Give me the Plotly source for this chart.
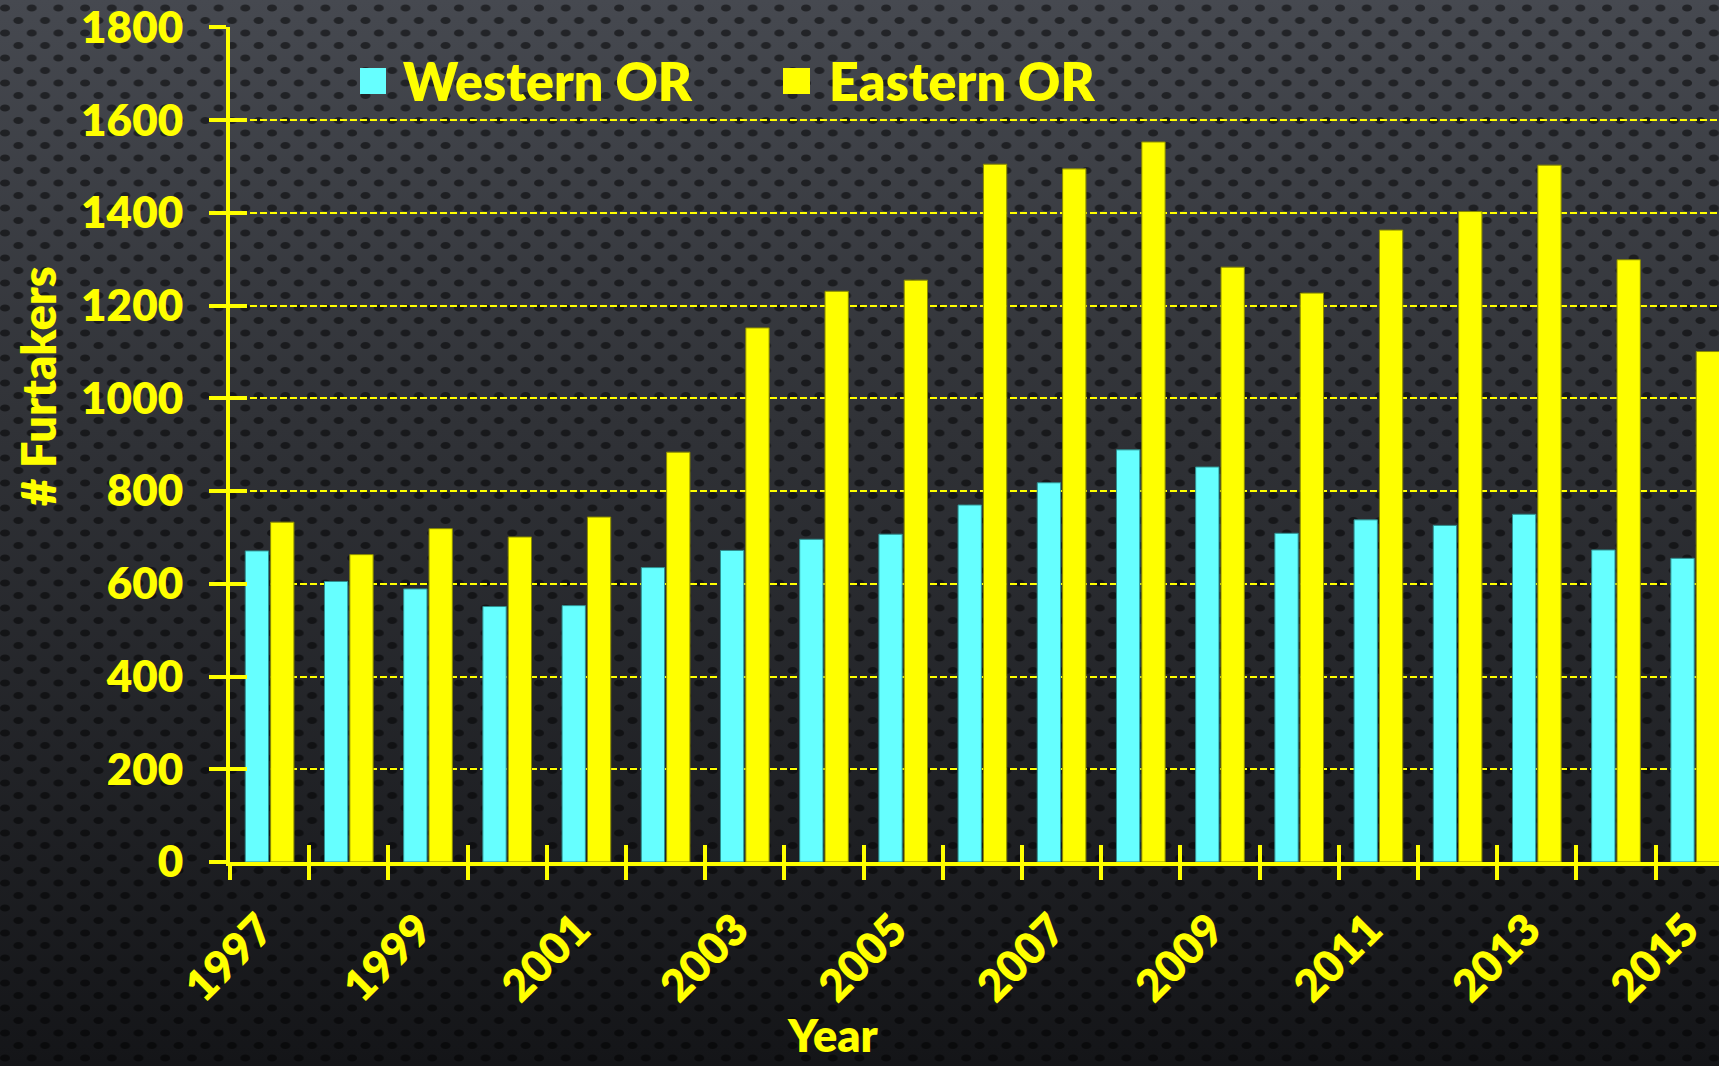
import base64
import plotly.graph_objects as go

# ---------------- data ----------------
years = list(range(1997, 2016))
western_or = [671, 605, 589, 551, 553, 635, 672, 696, 707, 770, 818, 889, 852, 709, 738, 726, 750, 673, 655]
eastern_or = [733, 663, 719, 701, 744, 884, 1152, 1231, 1255, 1505, 1495, 1553, 1283, 1227, 1363, 1403, 1503, 1299, 1101]
y_ticks = [0, 200, 400, 600, 800, 1000, 1200, 1400, 1600, 1800]
grid_ticks = y_ticks[1:-1]
x_label_years = years[::2]

YELLOW = "#FFFF00"
CYAN = "#66FFFF"
FONT = "Lato"
WEIGHT = 800

# ---------------- layout geometry ----------------
W, H = 1719, 1066
L, T, B, R = 230, 27, 204, 0
PW = W - L - R
PH = H - T - B
CAT_PX = 79.2  # pixel width of one year category in the reference
x_range = [years[0] - 0.5, years[0] - 0.5 + PW / CAT_PX]
y_range = [0, 1801]


def px(xp):
    return (xp - L) / PW


def py(yp):
    return (H - B - yp) / PH


# ---------------- background texture (svg) ----------------
svg = f"""<svg xmlns='http://www.w3.org/2000/svg' width='{W}' height='{H}'>
<defs>
<linearGradient id='g' x1='0' y1='0' x2='0' y2='1'>
<stop offset='0' stop-color='#464950'/>
<stop offset='0.4' stop-color='#303237'/>
<stop offset='1' stop-color='#141518'/>
</linearGradient>
<pattern id='p' width='26.7' height='25' patternUnits='userSpaceOnUse'>
<ellipse cx='5' cy='8' rx='5' ry='3.6' fill='#000' fill-opacity='0.5'/>
<ellipse cx='18.35' cy='20.5' rx='5' ry='3.6' fill='#000' fill-opacity='0.5'/>
</pattern>
</defs>
<rect width='100%' height='100%' fill='url(#g)'/>
<rect width='100%' height='100%' fill='url(#p)'/>
</svg>"""
svg_uri = "data:image/svg+xml;base64," + base64.b64encode(svg.encode()).decode()

fig = go.Figure()
fig.add_trace(go.Bar(
    x=years, y=western_or, name="Western OR",
    marker=dict(color=CYAN, line=dict(color="#2f8f8f", width=1)),
    showlegend=False,
))
fig.add_trace(go.Bar(
    x=years, y=eastern_or, name="Eastern OR",
    marker=dict(color=YELLOW, line=dict(color="#8a8a00", width=1)),
    showlegend=False,
))
# empty helper traces so the overlay axes (cross ticks, grid) are drawn
fig.add_trace(go.Scatter(x=[None], y=[None], xaxis="x2", yaxis="y2", mode="markers",
                         showlegend=False, hoverinfo="skip"))
fig.add_trace(go.Scatter(x=[None], y=[None], xaxis="x3", yaxis="y3", mode="markers",
                         showlegend=False, hoverinfo="skip"))

tick_font = dict(family=FONT, size=44, color=YELLOW, weight=WEIGHT)

fig.update_layout(
    width=W, height=H,
    margin=dict(l=L, r=R, t=T, b=B, pad=0),
    paper_bgcolor="#2a2c30",
    plot_bgcolor="#000000",
    barmode="group",
    bargap=0.36,
    bargroupgap=0.08,
    font=dict(family=FONT, color=YELLOW, weight=WEIGHT),
    xaxis=dict(
        type="linear", range=x_range, showgrid=False, zeroline=False,
        showline=True, linecolor=YELLOW, linewidth=4,
        tickmode="array", tickvals=x_label_years,
        ticktext=[str(v) for v in x_label_years],
        ticks="", tickangle=-45, tickfont=tick_font,
        ticklabelstandoff=20, ticklabelshift=-9,
    ),
    xaxis2=dict(
        overlaying="x", anchor="y", side="bottom",
        type="linear", range=x_range, showgrid=False, zeroline=False,
        showline=False, tickmode="linear", tick0=years[0] - 0.5, dtick=1,
        ticks="outside", ticklen=17, tickwidth=4, tickcolor=YELLOW,
        showticklabels=False,
    ),
    xaxis3=dict(
        overlaying="x", anchor="y", side="bottom",
        type="linear", range=x_range, showgrid=False, zeroline=False,
        showline=False, tickmode="linear", tick0=years[0] - 0.5, dtick=1,
        ticks="inside", ticklen=17, tickwidth=4, tickcolor=YELLOW,
        showticklabels=False,
    ),
    yaxis=dict(
        range=y_range, tickmode="array", tickvals=y_ticks,
        showgrid=False, zeroline=False, showline=True, linecolor=YELLOW, linewidth=4,
        ticks="outside", ticklen=17, tickwidth=4, tickcolor=YELLOW,
        tickfont=tick_font, ticklabelstandoff=17, ticklabeloverflow="allow",
    ),
    yaxis2=dict(
        overlaying="y", anchor="x", side="left",
        range=y_range, tickmode="array", tickvals=y_ticks,
        showgrid=False, zeroline=False, showline=False,
        ticks="inside", ticklen=17, tickwidth=4, tickcolor=YELLOW,
        showticklabels=False,
    ),
    yaxis3=dict(
        overlaying="y", anchor="x", side="left",
        range=y_range, tickmode="array", tickvals=grid_ticks,
        showgrid=True, gridcolor=YELLOW, gridwidth=2, griddash="7px,3px",
        zeroline=False, showline=False, ticks="", showticklabels=False,
    ),
    images=[dict(
        source=svg_uri, xref="paper", yref="paper",
        x=-L / PW, y=1 + T / PH, sizex=W / PW, sizey=H / PH,
        xanchor="left", yanchor="top", sizing="stretch", layer="below",
    )],
)

# legend (custom, large swatches)
legend_items = [("Western OR", CYAN, 360, 386, 401), ("Eastern OR", YELLOW, 783, 810, 827)]
for name, col, sx0, sx1, tx in legend_items:
    fig.add_shape(type="rect", xref="paper", yref="paper",
                  x0=px(sx0), x1=px(sx1), y0=py(94), y1=py(68),
                  fillcolor=col, line=dict(width=0), layer="above")
    fig.add_annotation(text=name, xref="paper", yref="paper",
                       x=px(tx), y=py(81), xanchor="left", yanchor="middle",
                       showarrow=False,
                       font=dict(family=FONT, size=52, color=YELLOW, weight=WEIGHT))

# axis titles
fig.add_annotation(text="# Furtakers", xref="paper", yref="paper",
                   x=px(38), y=py(386), xanchor="center", yanchor="middle",
                   textangle=-90, showarrow=False,
                   font=dict(family=FONT, size=47, color=YELLOW, weight=WEIGHT))
fig.add_annotation(text="Year", xref="paper", yref="paper",
                   x=px(832), y=py(1064), xanchor="center", yanchor="bottom",
                   showarrow=False,
                   font=dict(family=FONT, size=45, color=YELLOW, weight=WEIGHT))

fig.write_html(
    "out.html",
    config={"displayModeBar": False},
    post_script="document.body.style.margin='0';document.body.style.overflow='hidden';",
)
